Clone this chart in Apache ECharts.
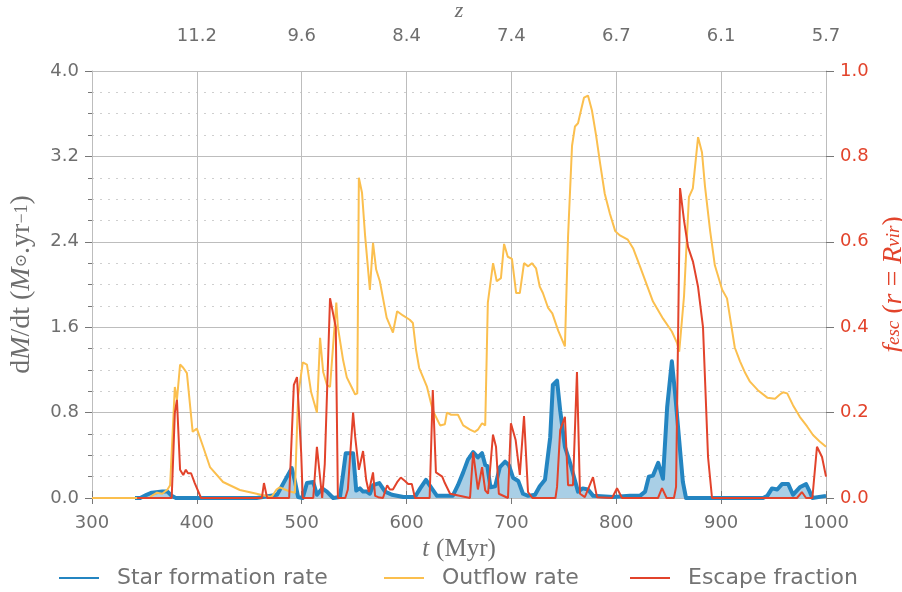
<!DOCTYPE html>
<html>
<head>
<meta charset="utf-8">
<script src="https://cdn.jsdelivr.net/npm/echarts@6/dist/echarts.min.js"></script>
<style>
html, body { margin: 0; padding: 0; background: #fff; }
#container0 { width: 902px; height: 592px; }
</style>
</head>
<body>
<div id="container0"></div>
<script>
// t (Myr) ticks and redshift labels on the top axis
var tTicks = [300, 400, 500, 600, 700, 800, 900, 1000];
var zLabels = ['', '11.2', '9.6', '8.4', '7.4', '6.7', '6.1', '5.7'];

// Star formation rate (Msun/yr)
var sfrT = [341, 346, 352, 357, 367, 372, 376, 380, 457, 476.5, 486, 490.5, 493.5, 496.5, 501, 505, 511, 514.5, 519.5, 524, 530,
    536.5, 539.5, 542, 549, 552, 555.5, 558.5, 562, 565, 568, 574, 579.5, 586, 597, 608, 613, 618.5, 624, 629, 644, 649, 654,
    658.5, 663.5, 668, 672, 675, 677, 680, 684.5, 689, 694, 697.5, 701.5, 706.5, 711, 716, 722.5, 727, 732, 737, 739.5, 743.5,
    746.5, 751, 755, 759, 763.5, 768, 773, 778, 797, 813, 822.5, 827.5, 831, 835, 840, 844.5, 848.5, 853, 856, 860, 863.5,
    866.5, 940, 944, 948.5, 953.5, 958, 964, 968.5, 975, 981, 984, 987, 1000];
var sfrV = [0, 0, 0.03, 0.05, 0.06, 0.06, 0.02, 0, 0, 0.03, 0.2, 0.28, 0.16, 0.01, 0, 0.14, 0.15, 0.03, 0.09, 0.06, 0,
    0.01, 0.23, 0.42, 0.42, 0.07, 0.09, 0.06, 0.06, 0.04, 0.12, 0.14, 0.06, 0.03, 0.01, 0.01, 0.09, 0.17, 0.09, 0.02, 0.02, 0.12, 0.24,
    0.36, 0.43, 0.38, 0.42, 0.31, 0.3, 0.1, 0.11, 0.29, 0.34, 0.31, 0.19, 0.16, 0.04, 0.02, 0.03, 0.11, 0.17, 0.57, 1.06, 1.1,
    0.82, 0.48, 0.36, 0.22, 0.06, 0.09, 0.08, 0.02, 0.01, 0.02, 0.02, 0.06, 0.2, 0.21, 0.33, 0.18, 0.85, 1.28, 0.99, 0.54, 0.15,
    0, 0, 0.02, 0.09, 0.08, 0.13, 0.13, 0.03, 0.1, 0.13, 0.07, 0, 0.02];

// Outflow rate (Msun/yr)
var outT = [300, 355, 357, 362, 367, 372, 374.5, 379, 381, 384, 387, 390.5, 396, 400, 406, 412.5, 425, 441, 457, 470, 472, 476,
    479, 484, 488.8, 493.5, 496.5, 501, 505, 509, 514.5, 517.5, 520.5, 524, 527, 533, 534.5, 539.5, 543, 548, 551, 553, 554.5,
    557.5, 560.5, 565, 568, 571, 574.5, 581, 587, 591, 596.5, 603, 606, 609, 612, 619.5, 625, 632, 636.5, 638.5, 642.5, 649,
    654, 660.5, 665, 668, 672, 675, 677.5, 682.5, 686, 690, 693, 696.5, 700.5, 704.5, 708, 712, 716, 719.5, 723.5, 727, 730,
    735, 739, 744.5, 751, 754, 757.8, 760.6, 763.5, 766.3, 769.2, 773, 776.8, 780.7, 784.5, 789, 794, 799, 803.5, 811, 816,
    822.6, 835, 844.6, 853, 858, 860, 864.6, 867.4, 869.3, 873, 878, 881.7, 884.6, 889.4, 894, 901, 905.6, 908.5, 913, 918,
    923, 927.5, 935, 944, 951.4, 956, 959, 963, 968.5, 975, 982, 987.6, 994, 1000];
var outV = [0, 0, 0.02, 0.05, 0.04, 0.08, 0.12, 1.04, 0.92, 1.25, 1.22, 1.17, 0.62, 0.65, 0.48, 0.29, 0.15, 0.075, 0.04, 0.01, 0.02, 0.08,
    0.1, 0.08, 0.06, 0.05, 0.95, 1.27, 1.25, 0.99, 0.8, 1.5, 1.18, 1.06, 1.04, 1.83, 1.6, 1.29, 1.13, 1.03, 0.97, 0.98, 3.0,
    2.86, 2.45, 1.95, 2.39, 2.14, 2.03, 1.69, 1.55, 1.75, 1.71, 1.67, 1.64, 1.39, 1.22, 1.04, 0.82, 0.68, 0.69, 0.8, 0.78, 0.78,
    0.68, 0.64, 0.62, 0.64, 0.7, 0.68, 1.83, 2.2, 2.03, 2.06, 2.38, 2.26, 2.24, 1.92, 1.92, 2.2, 2.17, 2.2, 2.15, 1.98, 1.92,
    1.78, 1.73, 1.57, 1.42, 2.45, 3.3, 3.48, 3.51, 3.63, 3.75, 3.77, 3.63, 3.4, 3.14, 2.85, 2.66, 2.5, 2.46, 2.42, 2.34,
    2.17, 1.84, 1.68, 1.56, 1.45, 1.37, 1.89, 2.45, 2.82, 2.9, 3.38, 3.24, 2.92, 2.51, 2.18, 1.95, 1.87, 1.69, 1.41, 1.28,
    1.17, 1.09, 1.01, 0.94, 0.93, 0.97, 0.99, 0.98, 0.87, 0.76, 0.67, 0.59, 0.53, 0.48];

// Escape fraction at r = Rvir
var escT = [343, 376, 379, 381, 384, 387, 389.5, 391.5, 394.5, 398, 404, 462, 464, 467, 488, 492.5, 495.5, 499.5, 501, 511,
    514.5, 519.5, 522, 527, 532.5, 534.5, 541.5, 544, 549, 551, 554.5, 558.5, 561.5, 564, 568, 570, 573, 577.5, 581.5, 584,
    587, 591, 594.5, 598.5, 601.5, 605, 608, 622, 625, 628, 634, 636.5, 641.5, 660.5, 663.5, 668, 672, 675, 677.7, 682.4,
    685.3, 688, 696.7, 699.5, 704, 708, 712, 715.8, 720, 742, 743.5, 746.5, 751, 754, 758.7, 762.5, 765.4, 770, 777.8, 781.6,
    796, 800.7, 805.5, 839.8, 843.6, 848, 855, 857, 860.8, 864.6, 868.4, 873.2, 878, 882.7, 887.5, 891.3, 972.3, 977, 981,
    987, 991.4, 996.2, 1000];
var escV = [0, 0, 0.2, 0.23, 0.066, 0.054, 0.066, 0.058, 0.058, 0.035, 0, 0, 0.035, 0, 0, 0.265, 0.283, 0.105, 0, 0,
    0.12, 0, 0.08, 0.468, 0.4, 0, 0, 0.02, 0.2, 0.143, 0.066, 0.11, 0.042, 0.014, 0.06, 0.005, 0.002, 0, 0.03, 0.02,
    0.02, 0.037, 0.048, 0.04, 0.033, 0.033, 0, 0, 0.253, 0.06, 0.05, 0.035, 0.01, 0, 0.107, 0.02, 0.072, 0.018, 0.01, 0.148,
    0.12, 0.01, 0, 0.175, 0.136, 0.054, 0.192, 0.014, 0, 0, 0.026, 0.159, 0.19, 0.03, 0.03, 0.295, 0.01, 0.002, 0.049, 0.002,
    0, 0.023, 0, 0, 0.023, 0, 0, 0.026, 0.726, 0.65, 0.588, 0.553, 0.494, 0.4, 0.096, 0, 0, 0.014, 0,
    0, 0.12, 0.096, 0.05];

function pairs(ts, vs) {
    var out = [];
    for (var i = 0; i < ts.length; i++) out.push([ts[i], vs[i]]);
    return out;
}

var gray = '#6e6e6e';
var gridGray = '#bdbdbd';
var red = '#e2432b';
var legendText = { fontFamily: 'DejaVu Sans', fontSize: 22, color: '#737373', padding: [0, 0, 0, 13] };

function legendAt(x, name) {
    return {
        left: x, top: 562,
        itemWidth: 40, itemHeight: 14,
        itemStyle: { opacity: 0 },
        textStyle: legendText,
        data: [name]
    };
}

var option = {
    animation: false,
    grid: { left: 92, right: 76, top: 71, bottom: 94, outerBoundsMode: 'none', containLabel: false },
    legend: [
        legendAt(53, 'Star formation rate'),
        legendAt(378, 'Outflow rate'),
        legendAt(624, 'Escape fraction')
    ],
    xAxis: [
        {
            type: 'value', min: 300, max: 1000, interval: 100, position: 'bottom',
            name: '{i|t} {r|(Myr)}', nameLocation: 'middle', nameGap: 38,
            nameTextStyle: {
                fontSize: 25,
                rich: {
                    i: { fontFamily: 'Liberation Serif', fontStyle: 'italic', fontSize: 25, color: gray },
                    r: { fontFamily: 'Liberation Serif', fontSize: 25, color: gray }
                }
            },
            axisLine: { show: true, lineStyle: { color: gridGray } },
            axisTick: { show: true, length: 6, lineStyle: { color: '#777' } },
            axisLabel: {
                fontFamily: 'DejaVu Sans', fontSize: 18, color: gray, margin: 16,
                formatter: function (v) { return String(v); }
            },
            splitLine: { show: true, lineStyle: { color: gridGray, width: 1 } }
        },
        {
            type: 'value', min: 300, max: 1000, interval: 100, position: 'top',
            name: 'z', nameLocation: 'middle', nameGap: 48,
            nameTextStyle: { fontFamily: 'Liberation Serif', fontStyle: 'italic', fontSize: 22, color: gray },
            axisLine: { show: true, lineStyle: { color: gridGray } },
            axisTick: { show: true, length: 7, lineStyle: { color: '#777' } },
            axisLabel: {
                fontFamily: 'DejaVu Sans', fontSize: 18, color: gray, margin: 26,
                showMinLabel: true, showMaxLabel: true,
                formatter: function (v) {
                    var k = tTicks.indexOf(Math.round(v));
                    return k >= 0 ? zLabels[k] : '';
                }
            },
            splitLine: { show: false }
        }
    ],
    yAxis: [
        {
            type: 'value', min: 0, max: 4.0, interval: 0.8, position: 'left',
            name: '{r|d}{i|M}{r|/dt (}{i|M}{s|⊙}{r|.yr}{p|−1}{r|)}',
            nameLocation: 'middle', nameGap: 56, nameRotate: 90,
            nameTextStyle: {
                fontSize: 28,
                rich: {
                    r: { fontFamily: 'Liberation Serif', fontSize: 28, color: gray },
                    i: { fontFamily: 'Liberation Serif', fontStyle: 'italic', fontSize: 28, color: gray },
                    s: { fontFamily: 'DejaVu Serif', fontSize: 16, color: gray },
                    p: { fontFamily: 'Liberation Serif', fontSize: 18, color: gray }
                }
            },
            axisLine: { show: true, lineStyle: { color: gridGray } },
            axisTick: { show: true, length: 7, lineStyle: { color: '#777' } },
            minorTick: { show: true, splitNumber: 4, length: 4, lineStyle: { color: '#777' } },
            axisLabel: {
                fontFamily: 'DejaVu Sans', fontSize: 18, color: gray, margin: 13,
                formatter: function (v) { return v.toFixed(1); }
            },
            splitLine: { show: true, lineStyle: { color: gridGray, width: 1 } },
            minorSplitLine: { show: true, lineStyle: { color: '#cfcfcf', type: [2, 6], width: 1 } }
        },
        {
            type: 'value', min: 0, max: 1.0, interval: 0.2, position: 'right',
            name: '{i|f}{s|esc}{r| (}{i|r}{r| = }{i|R}{s|vir}{r|)}',
            nameLocation: 'middle', nameGap: 48, nameRotate: 90,
            nameTextStyle: {
                fontSize: 28,
                rich: {
                    r: { fontFamily: 'Liberation Serif', fontSize: 28, color: red },
                    i: { fontFamily: 'Liberation Serif', fontStyle: 'italic', fontSize: 28, color: red },
                    s: { fontFamily: 'Liberation Serif', fontStyle: 'italic', fontSize: 19, color: red }
                }
            },
            axisLine: { show: true, lineStyle: { color: gridGray } },
            axisTick: { show: true, length: 8, lineStyle: { color: '#777' } },
            axisLabel: {
                fontFamily: 'DejaVu Sans', fontSize: 18, color: red, margin: 14,
                formatter: function (v) { return v.toFixed(1); }
            },
            splitLine: { show: false }
        }
    ],
    series: [
        {
            name: 'Star formation rate',
            type: 'line',
            xAxisIndex: 0, yAxisIndex: 0,
            symbol: 'none',
            color: '#2485c1',
            lineStyle: { width: 4, color: '#2485c1', join: 'round' },
            areaStyle: { color: '#a9cfe6', opacity: 1 },
            z: 2,
            data: pairs(sfrT, sfrV)
        },
        {
            name: 'Outflow rate',
            type: 'line',
            xAxisIndex: 0, yAxisIndex: 0,
            symbol: 'none',
            color: '#fbbf4e',
            lineStyle: { width: 2, color: '#fbbf4e' },
            z: 3,
            data: pairs(outT, outV)
        },
        {
            name: 'Escape fraction',
            type: 'line',
            xAxisIndex: 0, yAxisIndex: 1,
            symbol: 'none',
            color: red,
            lineStyle: { width: 2, color: red },
            z: 4,
            data: pairs(escT, escV)
        }
    ]
};

var chart_0 = echarts.init(document.getElementById('container0'));
chart_0.setOption(option);
</script>
</body>
</html>
